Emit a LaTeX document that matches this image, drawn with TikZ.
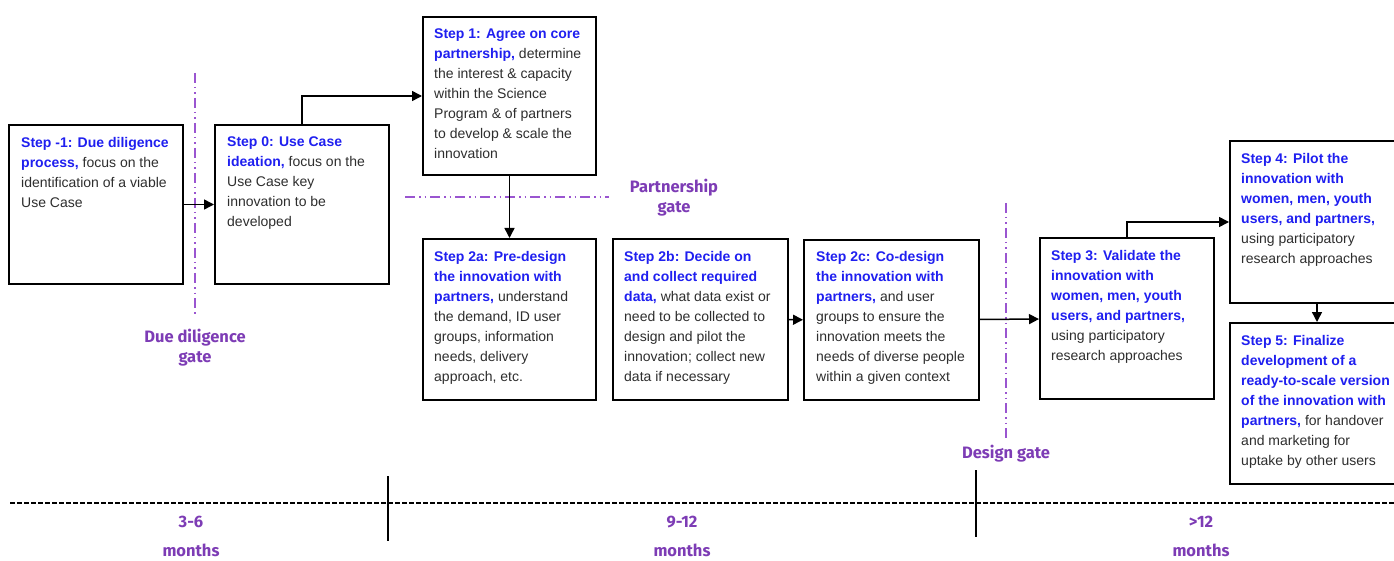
\documentclass[tikz,border=0pt]{standalone}
\usepackage{fontspec}
\setmainfont{Liberation Sans}
\newfontfamily\gatefont{Fira Sans}
\usetikzlibrary{arrows.meta,positioning,calc}

\definecolor{stepblue}{HTML}{1F1FF0}
\definecolor{bodygray}{HTML}{2E2E2E}
\definecolor{gatepurple}{HTML}{7D3CB5}
\definecolor{gateline}{HTML}{9A55D0}

\newcommand{\stitle}[1]{{\color{stepblue}\bfseries #1}}

\tikzset{
  stepbox/.style={draw=black, line width=2pt, fill=white, anchor=north west,
    minimum width=174pt, minimum height=159pt, inner sep=0pt},
  steptext/.style={anchor=north west, inner sep=0pt, align=left,
    text=bodygray, font=\fontsize{14}{20}\selectfont},
  conn/.style={draw=black, line width=1.5pt,
    -{Triangle[length=10pt,width=10pt]}},
  gate/.style={draw=gateline, line width=1.5pt,
    dash pattern=on 10pt off 4pt on 1.5pt off 4pt on 1.5pt off 4pt},
  gatelabel/.style={text=gatepurple, align=center, inner sep=0pt,
    font=\gatefont\bfseries\fontsize{16.5}{20}\selectfont},
  timelabel/.style={text=gatepurple, align=center, inner sep=0pt,
    font=\gatefont\bfseries\fontsize{16.5}{29}\selectfont},
  tick/.style={draw=black, line width=1.6pt}
}

\begin{document}
\begin{tikzpicture}[x=1pt,y=-1pt]
\useasboundingbox (0,0) rectangle (1394,561);

% gate lines (behind the boxes)
\draw[gate] (195,73) -- (195,317);
\draw[gate] (405,197) -- (609,197);
\draw[gate] (1006,203) -- (1006,438);

% step boxes
\node[stepbox] (sm1) at (8,124) {};
\node[stepbox] (s0)  at (214,124) {};
\node[stepbox, minimum width=173pt, minimum height=158pt] (s1) at (422,16) {};
\node[stepbox, minimum width=173pt, minimum height=161pt] (s2a) at (422,238) {};
\node[stepbox, minimum width=175pt, minimum height=161pt] (s2b) at (612,238) {};
\node[stepbox, minimum width=175pt, minimum height=160pt] (s2c) at (803,239) {};
\node[stepbox, minimum height=161pt] (s3) at (1039,237) {};
\node[stepbox, minimum height=162pt] (s4) at (1229,140) {};
\node[stepbox, minimum height=161pt] (s5) at (1229,322) {};

% box texts
\node[steptext] (sm1t) at ([xshift=13pt,yshift=-13pt]sm1.north west)
  {\stitle{Step -1: Due diligence}\\
   \stitle{process,} focus on the\\
   identification of a viable\\
   Use Case};
\node[steptext] (s0t) at ([xshift=13pt,yshift=-13pt]s0.north west)
  {\stitle{Step 0: Use Case}\\
   \stitle{ideation,} focus on the\\
   Use Case key\\
   innovation to be\\
   developed};
\node[steptext] (s1t) at ([xshift=12pt,yshift=-13pt]s1.north west)
  {\stitle{Step 1: Agree on core}\\
   \stitle{partnership,} determine\\
   the interest \& capacity\\
   within the Science\\
   Program \& of partners\\
   to develop \& scale the\\
   innovation};
\node[steptext] (s2at) at ([xshift=12pt,yshift=-13pt]s2a.north west)
  {\stitle{Step 2a: Pre-design}\\
   \stitle{the innovation with}\\
   \stitle{partners,} understand\\
   the demand, ID user\\
   groups, information\\
   needs, delivery\\
   approach, etc.};
\node[steptext] (s2bt) at ([xshift=12pt,yshift=-13pt]s2b.north west)
  {\stitle{Step 2b: Decide on}\\
   \stitle{and collect required}\\
   \stitle{data,} what data exist or\\
   need to be collected to\\
   design and pilot the\\
   innovation; collect new\\
   data if necessary};
\node[steptext] (s2ct) at ([xshift=13pt,yshift=-12pt]s2c.north west)
  {\stitle{Step 2c: Co-design}\\
   \stitle{the innovation with}\\
   \stitle{partners,} and user\\
   groups to ensure the\\
   innovation meets the\\
   needs of diverse people\\
   within a given context};
\node[steptext] (s3t) at ([xshift=12pt,yshift=-13pt]s3.north west)
  {\stitle{Step 3: Validate the}\\
   \stitle{innovation with}\\
   \stitle{women, men, youth}\\
   \stitle{users, and partners,}\\
   using participatory\\
   research approaches};
\node[steptext] (s4t) at ([xshift=12pt,yshift=-13pt]s4.north west)
  {\stitle{Step 4: Pilot the}\\
   \stitle{innovation with}\\
   \stitle{women, men, youth}\\
   \stitle{users, and partners,}\\
   using participatory\\
   research approaches};
\node[steptext] (s5t) at ([xshift=12pt,yshift=-13pt]s5.north west)
  {\stitle{Step 5: Finalize}\\
   \stitle{development of a}\\
   \stitle{ready-to-scale version}\\
   \stitle{of the innovation with}\\
   \stitle{partners,} for handover\\
   and marketing for\\
   uptake by other users};

% connectors
\draw[conn] (sm1) -- (s0);
\draw[conn] (s0.north) |- (s1.west);
\draw[conn] (s1) -- (s2a);
\draw[conn] (s2b) -- (s2c);
\draw[conn] (s2c) -- (s3);
\draw[conn] (s3.north) |- (s4.west);
\draw[conn] (s4) -- (s5);

% gate labels
\node[gatelabel] (gdue) at (195,348) {Due diligence\\gate};
\node[gatelabel] (gpart) at (674,198) {Partnership\\gate};
\node[gatelabel] (gdes) at (1006,454) {Design gate};

% timeline
\draw[black, line width=2.4pt, dash pattern=on 5pt off 2pt] (10,503) -- (1394,503);
\draw[tick] (388,476) -- (388,541);
\draw[tick] (976,470) -- (976,537);
\node[timelabel] (t1) at (191,536) {3-6\\months};
\node[timelabel] (t2) at (682,536) {9-12\\months};
\node[timelabel] (t3) at (1201,536) {>12\\months};
\end{tikzpicture}
\end{document}
